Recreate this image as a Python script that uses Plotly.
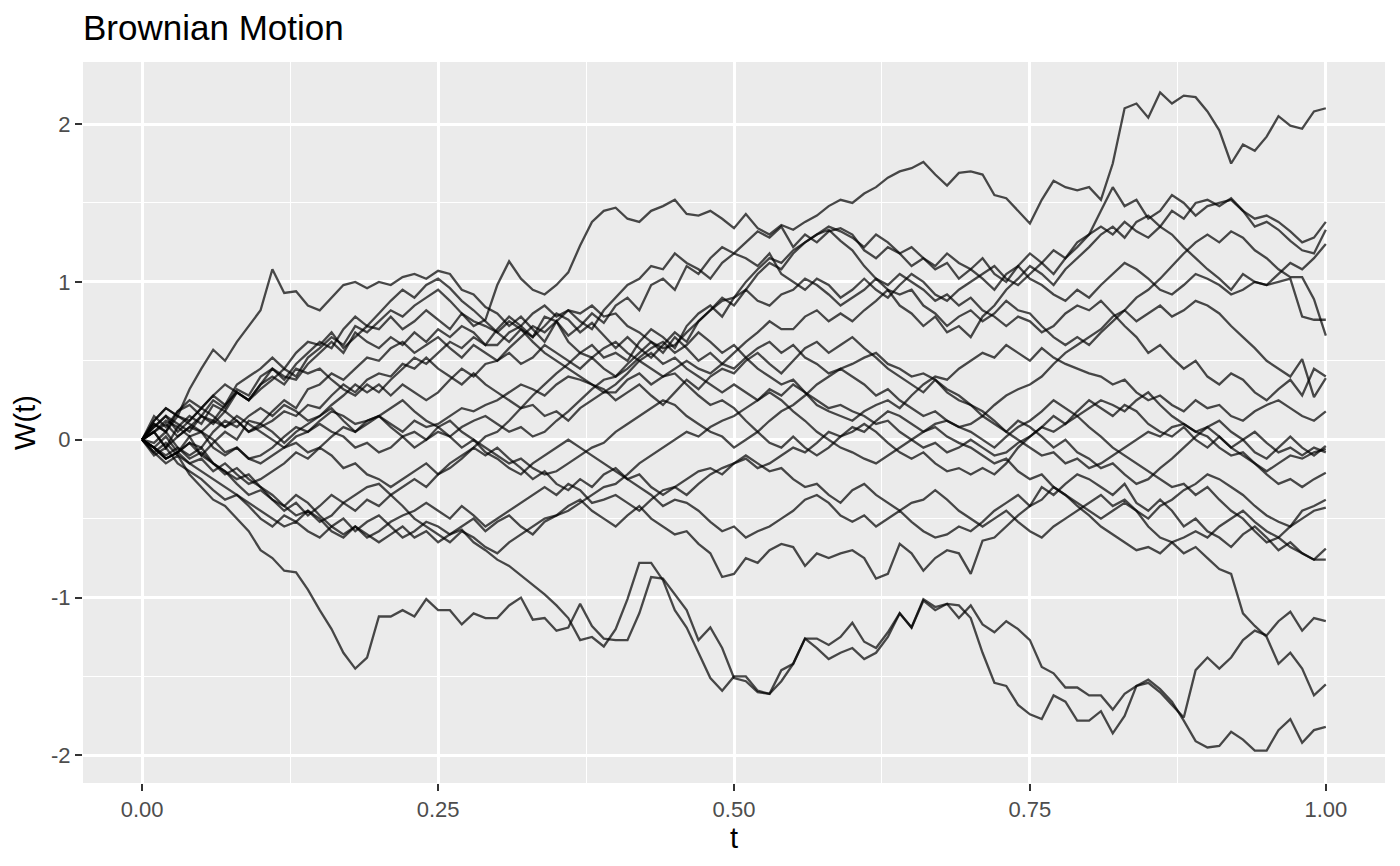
import plotly.graph_objects as go

# time grid (101 samples, step 0.01)
t = [round(i * 0.01, 2) for i in range(101)]

x_ticks = [0, 0.25, 0.5, 0.75, 1.0]
x_tick_labels = ["0.00", "0.25", "0.50", "0.75", "1.00"]
y_ticks = [-2, -1, 0, 1, 2]
y_tick_labels = ["-2", "-1", "0", "1", "2"]

w01 = [0,
       0.08, 0.15, 0.05, 0.12, 0.20, 0.28, 0.22, 0.35, 0.40, 0.45,
       0.52, 0.45, 0.55, 0.62, 0.60, 0.68, 0.58, 0.65, 0.72, 0.70,
       0.78, 0.70, 0.75, 0.82, 0.76, 0.70, 0.80, 0.72, 0.76, 0.98,
       1.13, 1.02, 0.95, 0.92, 0.98, 1.06, 1.23, 1.38, 1.45, 1.47,
       1.40, 1.38, 1.45, 1.48, 1.52, 1.43, 1.42, 1.45, 1.40, 1.34,
       1.43, 1.34, 1.30, 1.36, 1.33, 1.38, 1.42, 1.48, 1.52, 1.50,
       1.56, 1.60, 1.66, 1.70, 1.72, 1.76, 1.68, 1.61, 1.69, 1.70,
       1.68, 1.55, 1.53, 1.45, 1.37, 1.52, 1.64, 1.60, 1.58, 1.60,
       1.52, 1.75, 2.10, 2.13, 2.04, 2.20, 2.13, 2.18, 2.17, 2.08,
       1.96, 1.75, 1.87, 1.83, 1.92, 2.05, 1.99, 1.97, 2.08, 2.10]

w02 = [0,
       0.12, 0.20, 0.15, 0.32, 0.45, 0.57, 0.50, 0.62, 0.72, 0.82,
       1.08, 0.93, 0.94, 0.85, 0.82, 0.90, 0.98, 1.00, 0.96, 1.00,
       0.98, 1.03, 1.05, 1.02, 1.07, 1.05, 0.95, 0.92, 0.84, 0.80,
       0.72, 0.78, 0.70, 0.62, 0.75, 0.66, 0.72, 0.80, 0.74, 0.85,
       0.90, 0.82, 0.98, 1.02, 0.95, 1.10, 1.05, 1.15, 1.22, 1.18,
       1.25, 1.32, 1.28, 1.35, 1.22, 1.30, 1.25, 1.32, 1.34, 1.30,
       1.20, 1.15, 1.22, 1.18, 1.10, 1.15, 1.08, 1.12, 1.02, 1.08,
       1.15, 1.05, 1.00, 1.10, 1.18, 1.12, 1.05, 1.15, 1.22, 1.30,
       1.45, 1.60, 1.48, 1.52, 1.40, 1.45, 1.55, 1.50, 1.42, 1.48,
       1.50, 1.52, 1.45, 1.40, 1.42, 1.38, 1.32, 1.25, 1.28, 1.38]

w03 = [0,
       0.05, -0.05, 0.08, 0.15, 0.10, 0.22, 0.18, 0.30, 0.25, 0.35,
       0.45, 0.40, 0.38, 0.48, 0.55, 0.62, 0.55, 0.68, 0.62, 0.58,
       0.65, 0.60, 0.68, 0.62, 0.70, 0.65, 0.72, 0.68, 0.60, 0.70,
       0.78, 0.72, 0.80, 0.85, 0.78, 0.82, 0.75, 0.70, 0.82, 0.90,
       0.98, 1.02, 1.10, 1.08, 1.18, 1.12, 1.08, 1.02, 1.12, 1.18,
       1.15, 1.10, 1.18, 1.05, 1.00, 0.95, 1.02, 0.98, 0.90, 0.95,
       1.02, 0.95, 0.90, 0.98, 1.05, 1.00, 0.92, 0.88, 0.95, 1.00,
       1.05, 1.10, 1.02, 0.98, 1.05, 1.12, 1.20, 1.15, 1.25, 1.30,
       1.35, 1.30, 1.38, 1.32, 1.28, 1.35, 1.45, 1.40, 1.50, 1.52,
       1.48, 1.53, 1.45, 1.35, 1.38, 1.33, 1.26, 1.20, 1.18, 1.33]

w04 = [0,
       -0.05, -0.12, -0.08, 0.02, -0.10, -0.02, 0.05, 0.00, 0.12, 0.10,
       0.18, 0.25, 0.20, 0.32, 0.35, 0.42, 0.38, 0.45, 0.52, 0.50,
       0.58, 0.62, 0.55, 0.60, 0.65, 0.58, 0.52, 0.60, 0.55, 0.50,
       0.58, 0.65, 0.72, 0.68, 0.75, 0.62, 0.55, 0.60, 0.52, 0.55,
       0.50, 0.62, 0.70, 0.65, 0.58, 0.72, 0.80, 0.85, 0.78, 0.90,
       1.00, 1.08, 1.15, 1.12, 1.20, 1.25, 1.30, 1.33, 1.26, 1.20,
       1.10, 1.02, 0.95, 0.85, 0.80, 0.72, 0.78, 0.68, 0.72, 0.65,
       0.78, 0.85, 0.95, 1.02, 1.10, 1.05, 0.98, 1.08, 1.15, 1.22,
       1.30, 1.35, 1.28, 1.38, 1.42, 1.35, 1.30, 1.22, 1.15, 1.08,
       1.02, 0.95, 1.05, 1.00, 0.98, 1.05, 1.12, 1.08, 1.15, 1.24]

w05 = [0,
       0.10, 0.05, 0.18, 0.22, 0.15, 0.25, 0.20, 0.32, 0.28, 0.40,
       0.45, 0.38, 0.48, 0.55, 0.62, 0.58, 0.70, 0.78, 0.72, 0.80,
       0.88, 0.95, 0.90, 0.98, 1.02, 0.96, 0.88, 0.82, 0.75, 0.68,
       0.62, 0.70, 0.65, 0.72, 0.80, 0.76, 0.68, 0.74, 0.66, 0.58,
       0.65, 0.58, 0.52, 0.60, 0.68, 0.62, 0.75, 0.82, 0.90, 0.85,
       0.95, 1.05, 1.12, 1.08, 1.18, 1.25, 1.30, 1.35, 1.32, 1.28,
       1.22, 1.30, 1.25, 1.18, 1.22, 1.15, 1.10, 1.18, 1.12, 1.08,
       1.02, 0.95, 1.05, 1.10, 1.02, 0.98, 0.92, 0.88, 0.95, 0.90,
       0.98, 1.05, 1.12, 1.08, 1.02, 0.95, 0.92, 0.98, 1.05, 1.02,
       0.98, 0.92, 0.95, 1.00, 0.98, 1.00, 1.02, 0.78, 0.76, 0.76]

w06 = [0,
       0.08, 0.15, 0.10, 0.05, 0.15, 0.12, 0.22, 0.30, 0.25, 0.35,
       0.40, 0.35, 0.45, 0.42, 0.45, 0.38, 0.32, 0.28, 0.35, 0.30,
       0.38, 0.45, 0.52, 0.48, 0.55, 0.62, 0.58, 0.65, 0.60, 0.60,
       0.68, 0.72, 0.65, 0.78, 0.75, 0.82, 0.80, 0.85, 0.78, 0.80,
       0.72, 0.68, 0.62, 0.55, 0.65, 0.58, 0.50, 0.55, 0.48, 0.55,
       0.62, 0.68, 0.75, 0.70, 0.70, 0.78, 0.82, 0.75, 0.80, 0.75,
       0.82, 0.88, 0.95, 0.92, 0.95, 0.85, 0.80, 0.72, 0.78, 0.82,
       0.75, 0.80, 0.88, 0.82, 0.80, 0.72, 0.65, 0.60, 0.65, 0.60,
       0.68, 0.75, 0.82, 0.90, 0.95, 1.02, 1.10, 1.18, 1.25, 1.30,
       1.25, 1.32, 1.28, 1.20, 1.15, 1.08, 1.03, 1.03, 0.89, 0.66]

w07 = [0,
       -0.05, 0.02, -0.08, -0.02, -0.05, 0.05, 0.12, 0.08, 0.15, 0.20,
       0.15, 0.22, 0.18, 0.12, 0.15, 0.22, 0.28, 0.35, 0.30, 0.35,
       0.28, 0.35, 0.30, 0.25, 0.30, 0.38, 0.45, 0.40, 0.48, 0.50,
       0.55, 0.48, 0.52, 0.60, 0.55, 0.50, 0.45, 0.52, 0.45, 0.40,
       0.48, 0.55, 0.62, 0.58, 0.60, 0.68, 0.75, 0.82, 0.88, 0.90,
       0.95, 0.88, 0.85, 0.92, 0.95, 1.02, 0.98, 0.92, 0.85, 0.90,
       0.95, 1.02, 0.98, 1.05, 1.00, 0.95, 0.88, 0.92, 0.85, 0.90,
       0.82, 0.78, 0.72, 0.78, 0.75, 0.68, 0.72, 0.80, 0.85, 0.82,
       0.88, 0.80, 0.72, 0.65, 0.55, 0.60, 0.52, 0.45, 0.50, 0.40,
       0.35, 0.42, 0.38, 0.30, 0.25, 0.32, 0.38, 0.28, 0.45, 0.40]

w08 = [0,
       0.05, 0.12, 0.08, 0.02, 0.05, -0.05, -0.10, -0.05, -0.12, -0.15,
       -0.10, -0.05, -0.02, -0.08, -0.05, 0.02, 0.08, 0.05, 0.12, 0.15,
       0.10, 0.05, 0.12, 0.08, 0.10, 0.15, 0.20, 0.18, 0.22, 0.25,
       0.30, 0.35, 0.32, 0.28, 0.35, 0.40, 0.38, 0.35, 0.30, 0.30,
       0.38, 0.42, 0.35, 0.40, 0.45, 0.50, 0.45, 0.42, 0.48, 0.45,
       0.52, 0.58, 0.62, 0.55, 0.60, 0.52, 0.48, 0.42, 0.45, 0.40,
       0.35, 0.28, 0.32, 0.25, 0.20, 0.15, 0.18, 0.12, 0.08, 0.10,
       0.15, 0.22, 0.28, 0.32, 0.35, 0.40, 0.48, 0.55, 0.60, 0.65,
       0.70, 0.78, 0.82, 0.75, 0.80, 0.85, 0.78, 0.82, 0.88, 0.85,
       0.80, 0.72, 0.65, 0.58, 0.50, 0.45, 0.40, 0.51, 0.27, 0.39]

w09 = [0,
       0.10, 0.05, 0.15, 0.12, 0.20, 0.15, 0.08, 0.12, 0.05, 0.08,
       0.12, 0.18, 0.15, 0.22, 0.20, 0.28, 0.35, 0.30, 0.38, 0.42,
       0.40, 0.48, 0.45, 0.52, 0.45, 0.40, 0.35, 0.42, 0.35, 0.30,
       0.25, 0.20, 0.22, 0.15, 0.18, 0.12, 0.20, 0.25, 0.30, 0.35,
       0.42, 0.50, 0.55, 0.48, 0.52, 0.45, 0.40, 0.35, 0.30, 0.35,
       0.30, 0.25, 0.32, 0.28, 0.35, 0.30, 0.22, 0.18, 0.15, 0.12,
       0.18, 0.22, 0.25, 0.20, 0.28, 0.35, 0.40, 0.38, 0.45, 0.50,
       0.55, 0.52, 0.60, 0.55, 0.50, 0.58, 0.52, 0.48, 0.45, 0.42,
       0.40, 0.35, 0.38, 0.30, 0.25, 0.28, 0.22, 0.18, 0.25, 0.20,
       0.22, 0.15, 0.12, 0.18, 0.22, 0.25, 0.20, 0.15, 0.12, 0.18]

w10 = [0,
       0.05, -0.05, 0.02, 0.08, 0.05, 0.00, -0.08, -0.05, -0.12, -0.10,
       -0.05, 0.02, 0.08, 0.05, 0.12, 0.18, 0.15, 0.10, 0.12, 0.15,
       0.08, 0.02, -0.05, 0.00, 0.05, 0.02, 0.08, 0.12, 0.15, 0.10,
       0.05, 0.08, 0.02, 0.05, 0.12, 0.18, 0.25, 0.32, 0.38, 0.40,
       0.45, 0.52, 0.58, 0.62, 0.55, 0.60, 0.68, 0.62, 0.55, 0.60,
       0.52, 0.45, 0.40, 0.35, 0.38, 0.30, 0.25, 0.20, 0.22, 0.18,
       0.15, 0.10, 0.12, 0.05, 0.00, -0.05, -0.02, -0.08, -0.05, 0.00,
       -0.05, -0.10, -0.08, -0.02, 0.02, 0.08, 0.05, 0.10, 0.15, 0.20,
       0.25, 0.22, 0.18, 0.25, 0.30, 0.22, 0.15, 0.10, 0.05, 0.08,
       0.02, -0.05, -0.10, -0.15, -0.20, -0.15, -0.10, -0.12, -0.08, -0.06]

w11 = [0,
       -0.05, -0.10, -0.05, -0.12, -0.08, -0.15, -0.20, -0.28, -0.35, -0.32,
       -0.38, -0.45, -0.40, -0.48, -0.42, -0.35, -0.40, -0.45, -0.38, -0.42,
       -0.35, -0.30, -0.25, -0.30, -0.22, -0.15, -0.10, -0.05, 0.02, 0.05,
       0.12, 0.20, 0.28, 0.35, 0.42, 0.48, 0.55, 0.52, 0.58, 0.62,
       0.55, 0.50, 0.45, 0.40, 0.42, 0.35, 0.28, 0.22, 0.25, 0.20,
       0.12, 0.05, -0.02, -0.05, 0.02, -0.05, -0.10, -0.05, 0.02, 0.05,
       0.10, 0.05, -0.02, -0.08, -0.12, -0.08, -0.15, -0.20, -0.18, -0.22,
       -0.18, -0.22, -0.15, -0.05, 0.02, 0.08, 0.15, 0.10, 0.18, 0.25,
       0.20, 0.15, 0.22, 0.18, 0.10, 0.05, 0.02, 0.08, 0.00, -0.05,
       0.02, -0.05, 0.00, 0.05, -0.02, -0.08, -0.05, -0.10, -0.05, -0.08]

w12 = [0,
       0.12, 0.20, 0.15, 0.10, 0.05, 0.12, 0.08, 0.15, 0.10, 0.05,
       0.00, -0.05, 0.02, 0.05, 0.10, 0.05, 0.02, -0.05, -0.02, -0.08,
       -0.05, 0.02, 0.05, 0.00, 0.08, 0.12, 0.05, 0.00, -0.05, -0.10,
       -0.15, -0.12, -0.18, -0.22, -0.20, -0.15, -0.10, -0.05, -0.02, 0.05,
       0.10, 0.15, 0.20, 0.25, 0.22, 0.15, 0.10, 0.05, 0.02, -0.05,
       0.00, 0.05, 0.12, 0.18, 0.22, 0.28, 0.35, 0.40, 0.45, 0.48,
       0.52, 0.55, 0.48, 0.45, 0.40, 0.42, 0.38, 0.30, 0.25, 0.22,
       0.18, 0.12, 0.05, 0.00, -0.05, -0.10, -0.08, -0.15, -0.12, -0.18,
       -0.15, -0.10, -0.05, 0.00, 0.05, 0.02, 0.08, 0.10, 0.05, 0.02,
       -0.05, -0.10, -0.08, -0.15, -0.22, -0.28, -0.25, -0.30, -0.25, -0.21]

w13 = [0,
       -0.05, -0.12, -0.08, -0.15, -0.20, -0.25, -0.30, -0.35, -0.40, -0.45,
       -0.50, -0.55, -0.52, -0.58, -0.62, -0.55, -0.60, -0.55, -0.62, -0.58,
       -0.52, -0.48, -0.45, -0.40, -0.45, -0.50, -0.42, -0.48, -0.55, -0.50,
       -0.45, -0.40, -0.35, -0.30, -0.35, -0.28, -0.32, -0.40, -0.38, -0.35,
       -0.40, -0.45, -0.38, -0.32, -0.30, -0.35, -0.28, -0.22, -0.18, -0.15,
       -0.12, -0.18, -0.15, -0.10, -0.05, -0.08, -0.02, 0.05, 0.02, 0.08,
       0.05, 0.12, 0.18, 0.15, 0.10, 0.05, 0.08, 0.02, -0.02, -0.05,
       -0.10, -0.15, -0.12, -0.20, -0.25, -0.22, -0.30, -0.35, -0.40, -0.45,
       -0.50, -0.45, -0.40, -0.45, -0.50, -0.42, -0.38, -0.32, -0.28, -0.22,
       -0.25, -0.30, -0.35, -0.42, -0.48, -0.52, -0.55, -0.45, -0.42, -0.38]

w14 = [0,
       -0.02, 0.05, -0.05, -0.10, -0.05, -0.15, -0.20, -0.25, -0.22, -0.30,
       -0.35, -0.42, -0.48, -0.45, -0.52, -0.48, -0.40, -0.35, -0.30, -0.28,
       -0.35, -0.42, -0.50, -0.55, -0.60, -0.65, -0.58, -0.62, -0.68, -0.72,
       -0.65, -0.60, -0.55, -0.50, -0.48, -0.45, -0.40, -0.35, -0.30, -0.28,
       -0.22, -0.15, -0.10, -0.05, 0.00, 0.05, 0.02, 0.08, 0.12, 0.15,
       0.20, 0.25, 0.30, 0.25, 0.18, 0.12, 0.05, 0.00, -0.05, -0.08,
       -0.12, -0.15, -0.10, -0.05, 0.00, 0.05, 0.10, 0.12, 0.08, 0.05,
       0.00, -0.05, 0.02, 0.08, 0.12, 0.18, 0.25, 0.20, 0.15, 0.08,
       0.02, -0.05, -0.10, -0.15, -0.20, -0.25, -0.30, -0.28, -0.35, -0.30,
       -0.38, -0.45, -0.50, -0.58, -0.65, -0.62, -0.55, -0.50, -0.45, -0.43]

w15 = [0,
       -0.08, -0.02, -0.10, -0.15, -0.12, -0.20, -0.15, -0.22, -0.28, -0.25,
       -0.20, -0.15, -0.08, -0.12, -0.05, -0.10, -0.18, -0.15, -0.22, -0.25,
       -0.30, -0.25, -0.20, -0.15, -0.22, -0.18, -0.12, -0.05, -0.10, -0.05,
       -0.12, -0.18, -0.25, -0.20, -0.28, -0.32, -0.25, -0.30, -0.22, -0.18,
       -0.25, -0.30, -0.35, -0.42, -0.38, -0.40, -0.45, -0.52, -0.58, -0.55,
       -0.62, -0.58, -0.55, -0.50, -0.45, -0.38, -0.35, -0.40, -0.48, -0.52,
       -0.48, -0.55, -0.50, -0.45, -0.52, -0.58, -0.62, -0.60, -0.55, -0.58,
       -0.52, -0.45, -0.40, -0.35, -0.42, -0.38, -0.30, -0.35, -0.42, -0.48,
       -0.55, -0.60, -0.65, -0.70, -0.68, -0.72, -0.65, -0.62, -0.58, -0.62,
       -0.55, -0.50, -0.45, -0.52, -0.58, -0.62, -0.68, -0.72, -0.76, -0.69]

w16 = [0,
       -0.10, -0.05, -0.15, -0.20, -0.25, -0.32, -0.38, -0.35, -0.42, -0.50,
       -0.55, -0.48, -0.52, -0.45, -0.50, -0.58, -0.62, -0.55, -0.60, -0.65,
       -0.60, -0.55, -0.62, -0.58, -0.65, -0.60, -0.55, -0.50, -0.58, -0.52,
       -0.48, -0.55, -0.60, -0.52, -0.48, -0.42, -0.38, -0.45, -0.50, -0.55,
       -0.48, -0.42, -0.50, -0.55, -0.60, -0.58, -0.66, -0.72, -0.87, -0.85,
       -0.75, -0.78, -0.70, -0.66, -0.68, -0.80, -0.72, -0.75, -0.72, -0.70,
       -0.75, -0.88, -0.85, -0.66, -0.72, -0.83, -0.75, -0.70, -0.72, -0.85,
       -0.64, -0.62, -0.55, -0.48, -0.42, -0.30, -0.35, -0.28, -0.22, -0.25,
       -0.30, -0.35, -0.28, -0.40, -0.45, -0.38, -0.45, -0.55, -0.50, -0.58,
       -0.62, -0.68, -0.60, -0.55, -0.62, -0.70, -0.65, -0.72, -0.76, -0.76]

w17 = [0,
       -0.05, -0.12, -0.08, -0.02, -0.10, -0.15, -0.22, -0.18, -0.25, -0.30,
       -0.38, -0.42, -0.35, -0.40, -0.48, -0.55, -0.50, -0.58, -0.52, -0.48,
       -0.55, -0.62, -0.58, -0.52, -0.55, -0.60, -0.57, -0.65, -0.70, -0.76,
       -0.80, -0.86, -0.92, -0.98, -1.05, -1.13, -1.27, -1.25, -1.31, -1.20,
       -1.01, -0.78, -0.78, -0.89, -1.08, -1.19, -1.35, -1.51, -1.59, -1.50,
       -1.50, -1.59, -1.61, -1.46, -1.42, -1.26, -1.32, -1.39, -1.35, -1.32,
       -1.39, -1.35, -1.25, -1.10, -1.19, -1.01, -1.06, -1.04, -1.05, -1.13,
       -1.35, -1.54, -1.56, -1.68, -1.74, -1.77, -1.62, -1.66, -1.78, -1.78,
       -1.72, -1.86, -1.75, -1.56, -1.54, -1.60, -1.68, -1.76, -1.46, -1.38,
       -1.45, -1.38, -1.27, -1.21, -1.24, -1.15, -1.09, -1.21, -1.13, -1.15]

w18 = [0,
       0.05, 0.10, 0.02, 0.08, 0.15, 0.10, 0.18, 0.12, 0.05, 0.10,
       0.05, -0.02, 0.05, 0.10, 0.15, 0.20, 0.12, 0.05, 0.10, 0.15,
       0.20, 0.25, 0.18, 0.12, 0.08, 0.02, -0.05, 0.00, -0.08, -0.12,
       -0.18, -0.22, -0.15, -0.10, -0.05, 0.00, -0.05, -0.10, -0.15, -0.20,
       -0.25, -0.22, -0.30, -0.35, -0.30, -0.25, -0.20, -0.18, -0.22, -0.15,
       -0.10, -0.15, -0.20, -0.18, -0.25, -0.30, -0.28, -0.35, -0.40, -0.32,
       -0.28, -0.35, -0.40, -0.45, -0.40, -0.38, -0.32, -0.38, -0.45, -0.50,
       -0.55, -0.50, -0.45, -0.52, -0.58, -0.62, -0.55, -0.50, -0.45, -0.40,
       -0.35, -0.42, -0.38, -0.45, -0.55, -0.62, -0.65, -0.72, -0.68, -0.75,
       -0.82, -0.85, -1.10, -1.18, -1.25, -1.42, -1.35, -1.45, -1.62, -1.55]

w19 = [0,
       -0.08, -0.15, -0.10, -0.22, -0.30, -0.38, -0.42, -0.50, -0.58, -0.70,
       -0.75, -0.83, -0.84, -0.95, -1.08, -1.20, -1.35, -1.45, -1.38, -1.12,
       -1.12, -1.08, -1.12, -1.01, -1.08, -1.08, -1.17, -1.10, -1.13, -1.13,
       -1.05, -1.00, -1.14, -1.13, -1.21, -1.19, -1.04, -1.18, -1.26, -1.27,
       -1.27, -1.10, -0.87, -0.88, -0.98, -1.08, -1.27, -1.19, -1.32, -1.51,
       -1.53, -1.60, -1.61, -1.53, -1.42, -1.26, -1.26, -1.30, -1.25, -1.16,
       -1.28, -1.32, -1.22, -1.10, -1.19, -1.02, -1.08, -1.04, -1.13, -1.05,
       -1.17, -1.22, -1.15, -1.20, -1.27, -1.44, -1.48, -1.57, -1.57, -1.62,
       -1.62, -1.71, -1.61, -1.56, -1.52, -1.58, -1.66, -1.78, -1.91, -1.95,
       -1.94, -1.85, -1.90, -1.97, -1.97, -1.84, -1.77, -1.92, -1.84, -1.82]

w20 = [0,
       0.15, 0.08, 0.18, 0.25, 0.20, 0.28, 0.35, 0.30, 0.25, 0.32,
       0.38, 0.45, 0.40, 0.52, 0.58, 0.65, 0.60, 0.72, 0.68, 0.75,
       0.82, 0.78, 0.85, 0.90, 0.95, 0.88, 0.80, 0.75, 0.72, 0.68,
       0.75, 0.70, 0.62, 0.55, 0.50, 0.45, 0.40, 0.35, 0.32, 0.25,
       0.30, 0.35, 0.28, 0.22, 0.30, 0.38, 0.32, 0.40, 0.45, 0.42,
       0.50, 0.55, 0.48, 0.42, 0.50, 0.58, 0.62, 0.55, 0.60, 0.65,
       0.58, 0.52, 0.45, 0.40, 0.35, 0.30, 0.38, 0.32, 0.28, 0.22,
       0.15, 0.10, 0.05, 0.12, 0.08, 0.02, -0.05, 0.00, -0.08, -0.12,
       -0.18, -0.15, -0.22, -0.28, -0.25, -0.18, -0.12, -0.05, 0.02, 0.08,
       0.12, 0.05, 0.00, -0.08, -0.12, -0.05, 0.02, -0.05, -0.10, -0.04]

paths = [w01, w02, w03, w04, w05, w06, w07, w08, w09, w10,
         w11, w12, w13, w14, w15, w16, w17, w18, w19, w20]

FONT = "Liberation Sans, Arial, Helvetica, sans-serif"

fig = go.Figure()
for w in paths:
    fig.add_trace(go.Scatter(
        x=t[:len(w)], y=w, mode="lines",
        line=dict(color="rgba(0,0,0,0.7)", width=2.3),
        hoverinfo="skip", showlegend=False,
    ))

axis_common = dict(
    showgrid=True, gridcolor="white", gridwidth=2.6,
    zeroline=False, showline=False,
    ticks="outside", ticklen=7, tickwidth=2, tickcolor="#333333",
    tickfont=dict(family=FONT, size=22, color="#4D4D4D"),
)

fig.update_layout(
    width=1400, height=866,
    margin=dict(l=83, r=15, t=62, b=83),
    paper_bgcolor="white", plot_bgcolor="#EBEBEB",
    font=dict(family=FONT),
    title=dict(text="Brownian Motion", xref="container", x=83 / 1400,
               xanchor="left", yref="container", y=1 - 28 / 866,
               yanchor="middle",
               font=dict(family=FONT, size=35, color="black")),
    xaxis=dict(range=[-0.05, 1.05], tickvals=x_ticks, ticktext=x_tick_labels,
               minor=dict(tickvals=[0.125, 0.375, 0.625, 0.875], showgrid=True,
                          gridcolor="white", gridwidth=1.3, ticks=""),
               title=dict(text="t", standoff=6,
                          font=dict(family=FONT, size=29, color="black")),
               **axis_common),
    yaxis=dict(range=[-2.175, 2.393], tickvals=y_ticks, ticktext=y_tick_labels,
               minor=dict(tickvals=[-1.5, -0.5, 0.5, 1.5], showgrid=True,
                          gridcolor="white", gridwidth=1.3, ticks=""),
               title=dict(text="W(t)", standoff=6,
                          font=dict(family=FONT, size=29, color="black")),
               **axis_common),
)

fig.write_html("out.html",
               config={"displayModeBar": False},
               post_script="document.body.style.margin='0';"
                           "document.body.style.padding='0';")
